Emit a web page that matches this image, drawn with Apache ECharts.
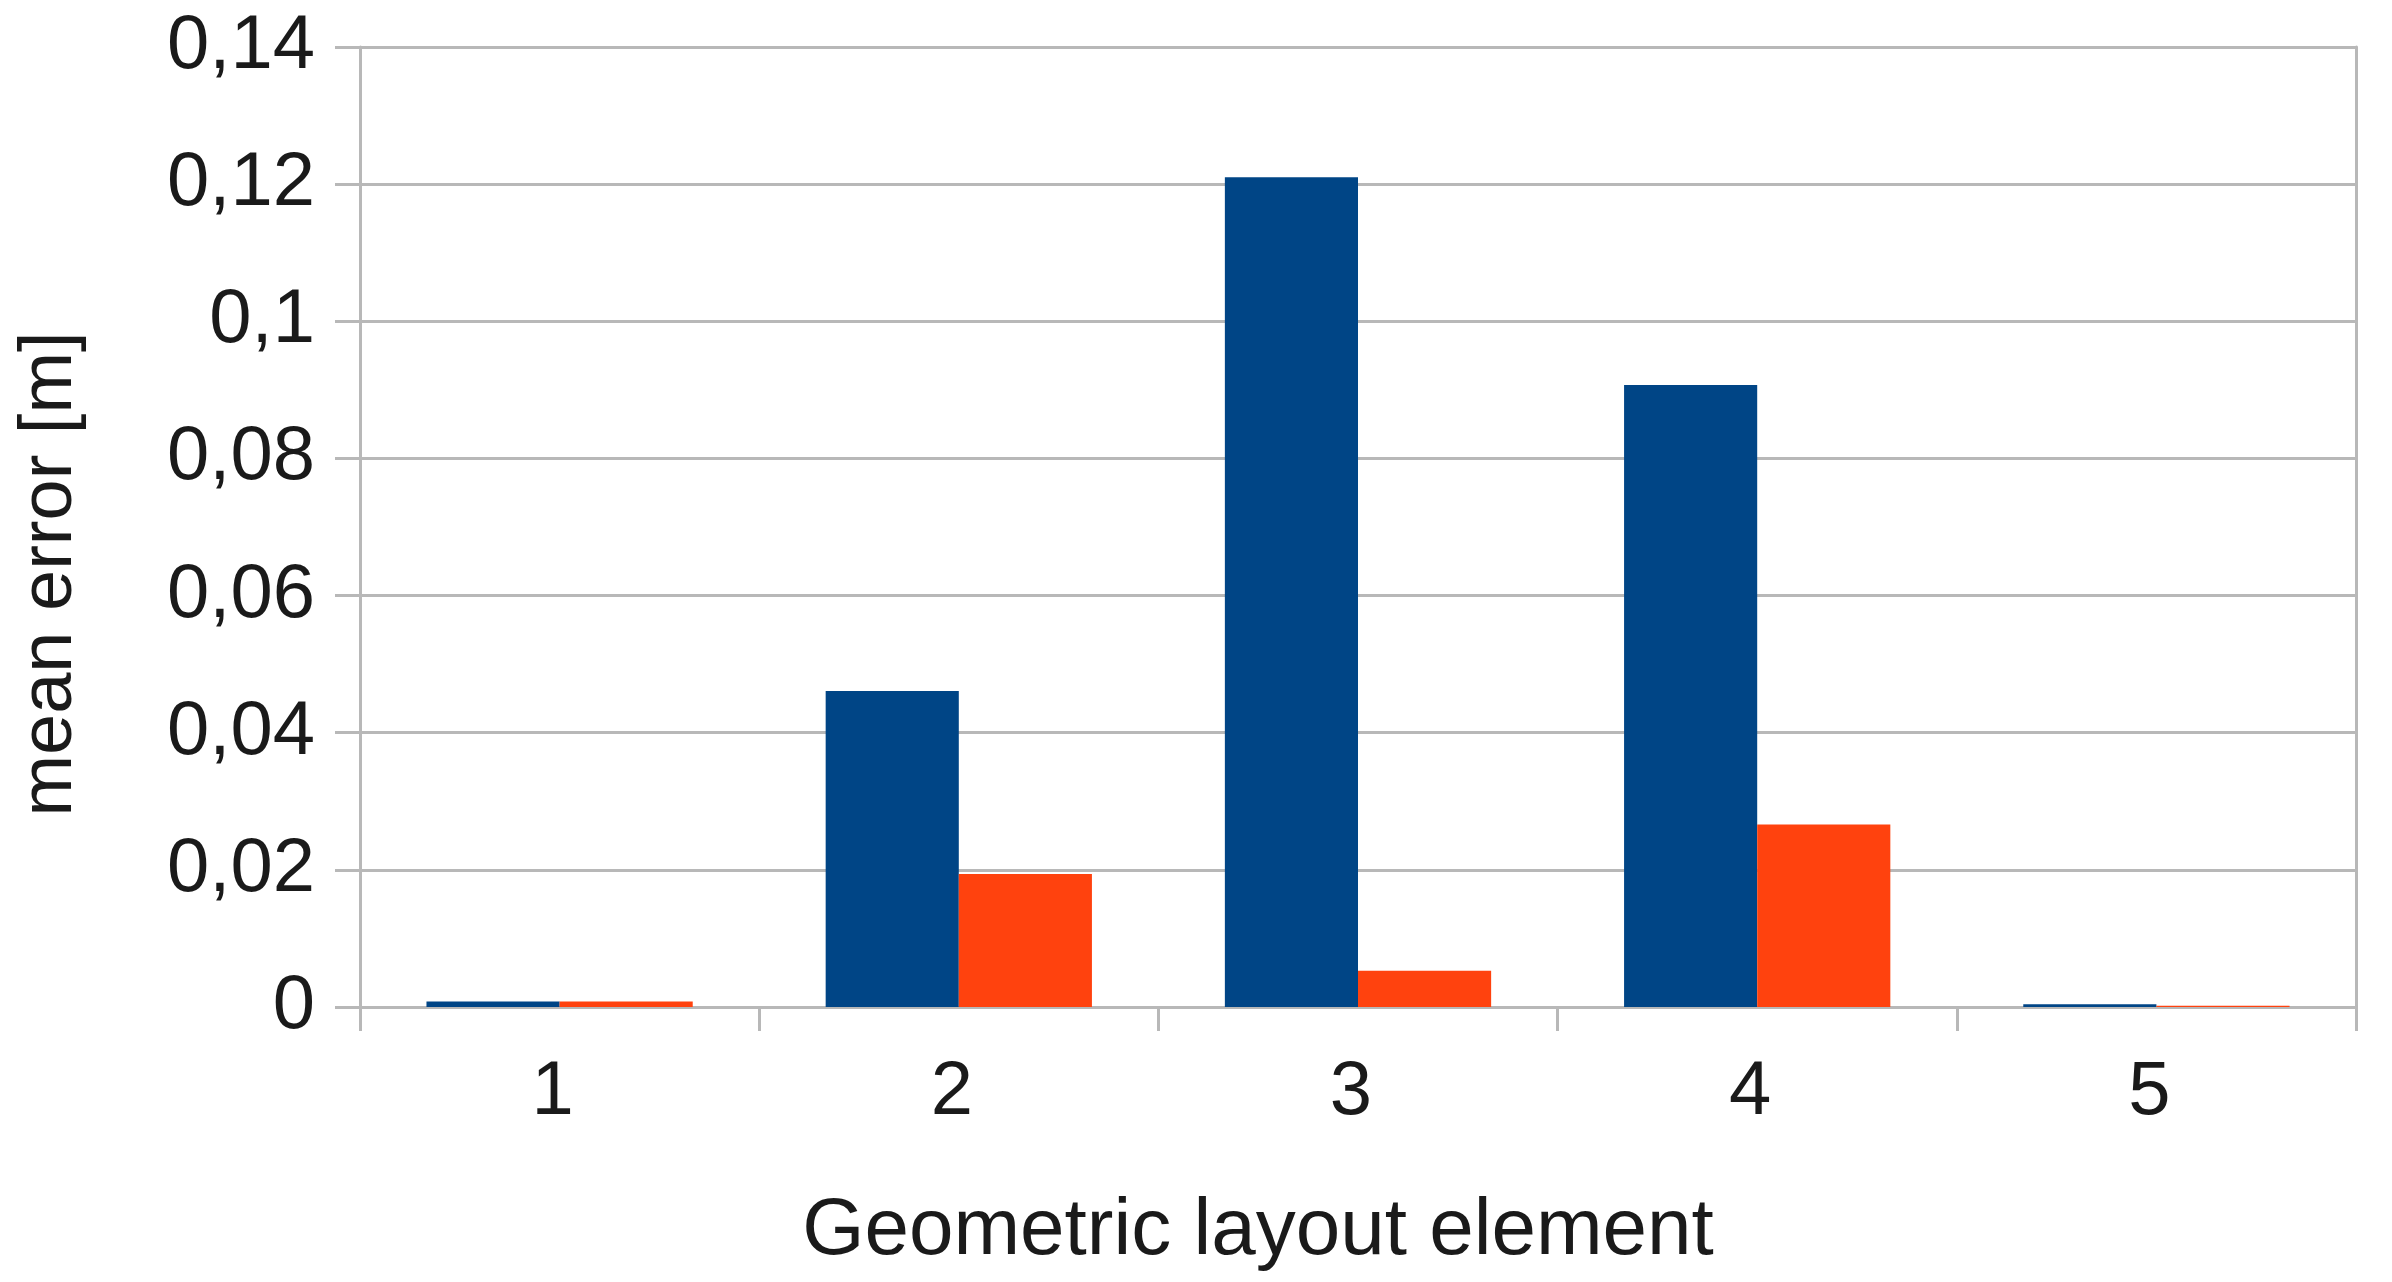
<!DOCTYPE html>
<html>
<head>
<meta charset="utf-8">
<script src="https://cdn.jsdelivr.net/npm/echarts@6/dist/echarts.min.js"></script>
<style>
html,body{margin:0;padding:0;background:#fff;}
#chart{width:2392px;height:1282px;}
</style>
</head>
<body>
<div id="chart"></div>
<script>
const categories = ['1', '2', '3', '4', '5'];
const seriesBlue = [0.0008, 0.0461, 0.1210, 0.0907, 0.0004];
const seriesOrange = [0.0008, 0.0194, 0.0053, 0.0266, 0.0002];
const yTicks = [0, 0.02, 0.04, 0.06, 0.08, 0.1, 0.12, 0.14];
const yTickLabels = ['0', '0,02', '0,04', '0,06', '0,08', '0,1', '0,12', '0,14'];

const gridColor = '#b8b8b8';
const textColor = '#1a1a1a';
const font = 'Liberation Sans';

const chart = echarts.init(document.getElementById('chart'));
chart.setOption({
  animation: false,
  backgroundColor: '#ffffff',
  grid: { left: 360, right: 36, top: 47, bottom: 275 },
  xAxis: {
    type: 'category',
    data: categories,
    name: 'Geometric layout element',
    nameLocation: 'middle',
    nameGap: 185,
    nameTextStyle: { fontFamily: font, fontSize: 80, color: textColor, padding: [0, 200, 0, 0] },
    axisLine: { show: true, lineStyle: { color: gridColor, width: 3 } },
    axisTick: { show: true, length: 24, lineStyle: { color: gridColor, width: 3 } },
    axisLabel: { fontFamily: font, fontSize: 76, color: textColor, margin: 48, padding: [0, 14, 0, 0] }
  },
  yAxis: [{
    type: 'value',
    min: 0,
    max: 0.14,
    interval: 0.02,
    name: 'mean error [m]',
    nameLocation: 'middle',
    nameGap: 272,
    nameTextStyle: { fontFamily: font, fontSize: 74, color: textColor, padding: [0, 94, 0, 0] },
    axisLine: { show: true, lineStyle: { color: gridColor, width: 3 } },
    axisTick: { show: true, length: 25, lineStyle: { color: gridColor, width: 3 } },
    axisLabel: {
      fontFamily: font, fontSize: 76, color: textColor, margin: 45,
      formatter: function (v) {
        const i = yTicks.findIndex(t => Math.abs(t - v) < 1e-9);
        return i >= 0 ? yTickLabels[i] : String(v).replace('.', ',');
      }
    },
    splitLine: { show: true, lineStyle: { color: gridColor, width: 3 } }
  }, {
    type: 'value',
    position: 'right',
    min: 0,
    max: 0.14,
    interval: 0.02,
    axisLine: { show: true, lineStyle: { color: gridColor, width: 3 } },
    axisTick: { show: false },
    axisLabel: { show: false },
    splitLine: { show: false }
  }],
  series: [{
    type: 'bar',
    data: seriesBlue,
    itemStyle: { color: '#004586' },
    barGap: '0%',
    barCategoryGap: '33.3%'
  }, {
    type: 'bar',
    data: seriesOrange,
    itemStyle: { color: '#ff420e' },
    barGap: '0%',
    barCategoryGap: '33.3%'
  }]
});
</script>
</body>
</html>
